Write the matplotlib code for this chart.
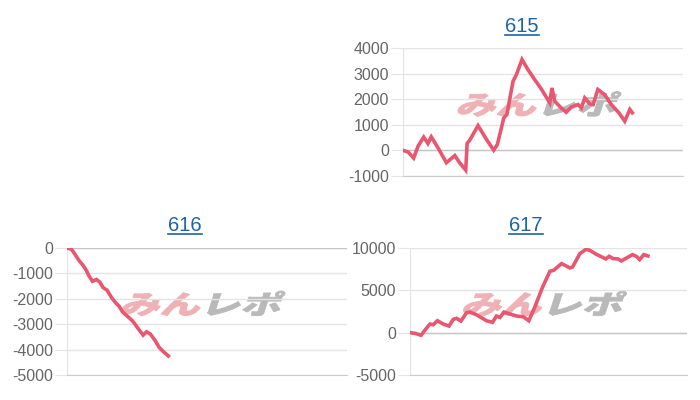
import matplotlib
matplotlib.use("Agg")
import matplotlib.pyplot as plt
from matplotlib.textpath import TextPath
from matplotlib.font_manager import FontProperties
from matplotlib.patches import PathPatch
from matplotlib.transforms import Affine2D, IdentityTransform
from matplotlib.lines import Line2D

plt.rcParams['font.family'] = ['Liberation Sans', 'DejaVu Sans']
plt.rcParams['axes.unicode_minus'] = False

# x = progress along the day (0-100), y = balance
x_615 = [0, 1.8, 3.8, 5.4, 7.4, 8.9, 10.1, 12.5, 15.5, 18.5, 20.2, 22.4, 22.9, 24.0,
         26.8, 29.8, 32.4, 33.7, 36.0, 37.1, 39.3, 40.5, 42.5, 44.6, 47.0, 49.4,
         52.4, 53.2, 54.2, 56.5, 58.3, 60.1, 62.5, 63.7, 64.9, 66.7, 67.9, 69.6,
         72.0, 74.4, 77.1, 79.2, 81.0, 81.9]
y_615 = [0, -60, -300, 170, 520, 270, 530, 100, -480, -200, -480, -770, 270, 430,
         970, 430, 10, 230, 1270, 1400, 2700, 2960, 3550, 3160, 2770, 2400,
         1860, 2440, 1920, 1660, 1490, 1690, 1790, 1660, 2050, 1820, 1790, 2380,
         2180, 1790, 1470, 1140, 1600, 1470]

x_616 = [0, 1.6, 2.7, 4.2, 5.7, 6.9, 7.9, 9.1, 10.5, 11.7, 12.9, 14.3, 15.9, 17.4,
         18.6, 19.8, 21.8, 23.4, 24.8, 26.0, 27.2, 28.4, 29.8, 31.4, 32.9, 34.4, 36.2]
y_616 = [0, -50, -220, -480, -680, -880, -1110, -1310, -1240, -1340, -1560, -1660,
         -1950, -2160, -2290, -2510, -2710, -2870, -3080, -3260, -3430, -3300,
         -3390, -3630, -3910, -4080, -4250]

x_617 = [0, 1.8, 4.0, 5.4, 7.2, 8.4, 9.9, 12.0, 14.1, 15.6, 16.8, 18.4, 20.4, 21.6,
         24.0, 27.6, 29.8, 31.2, 32.5, 33.9, 36.1, 38.5, 40.9, 42.9, 45.1, 47.8,
         50.5, 51.9, 54.7, 55.9, 57.7, 58.7, 61.3, 63.5, 64.9, 67.3, 70.7, 71.9,
         73.3, 75.1, 76.3, 78.4, 80.3, 81.7, 82.9, 84.4, 85.9]
y_617 = [0, -80, -310, 310, 1020, 940, 1410, 1020, 780, 1570, 1690, 1370, 2350, 2430,
         2120, 1410, 1220, 1960, 1800, 2430, 2200, 1960, 1880, 1410, 3060, 5330,
         7250, 7370, 8160, 7960, 7650, 7760, 9330, 9840, 9730, 9250, 8710, 9020,
         8750, 8710, 8470, 8860, 9220, 9020, 8630, 9220, 9060]

yticks_615 = [-1000, 0, 1000, 2000, 3000, 4000]
yticks_616 = [-5000, -4000, -3000, -2000, -1000, 0]
yticks_617 = [-5000, 0, 5000, 10000]

LINE = '#e9566f'
GRID = '#e4e4e4'
TICK = '#666666'
TITLE = '#1b64a8'

W, H = 700, 400
fig = plt.figure(figsize=(7, 4), dpi=100)

panels = [
    # name, x, y, ticks, axes rect in px (left, top, right, bottom), title center px
    ('615', x_615, y_615, yticks_615, (403, 48, 683, 176), (522, 26)),
    ('616', x_616, y_616, yticks_616, (67, 248, 347, 375), (185, 226)),
    ('617', x_617, y_617, yticks_617, (410, 248, 687, 375), (526, 226)),
]

jp = FontProperties(family='Noto Sans CJK JP', weight='heavy')


def add_watermark(cx, cy, width=158, height=25):
    # "みんレポ" logo, pink + gray, slanted, stretched to a fixed box
    parts = [('みん', '#efb1b5'), ('レポ', '#b9b9b9')]
    p1 = TextPath((0, 0), parts[0][0], size=30, prop=jp)
    p2 = TextPath((p1.get_extents().x1 + 1, 0), parts[1][0], size=30, prop=jp)
    ext1, ext2 = p1.get_extents(), p2.get_extents()
    x0 = min(ext1.x0, ext2.x0)
    x1 = max(ext1.x1, ext2.x1)
    y0 = min(ext1.y0, ext2.y0)
    y1 = max(ext1.y1, ext2.y1)
    sx = width / (x1 - x0)
    sy = height / (y1 - y0)
    for p, (_, col) in zip([p1, p2], parts):
        tr = (Affine2D().translate(-(x0 + x1) / 2, -(y0 + y1) / 2)
              .skew_deg(12, 0).scale(sx, sy).translate(cx, H - cy))
        fig.add_artist(PathPatch(p, transform=tr + IdentityTransform(), fc=col,
                                 ec=col, lw=0.6, zorder=0.5))


for name, xs, ys, ticks, (l, t, r, b), (tx, ty) in panels:
    ax = fig.add_axes([l / W, 1 - b / H, (r - l) / W, (b - t) / H])
    ax.patch.set_alpha(0)
    ax.set_zorder(1)
    ax.plot(xs, ys, color=LINE, lw=2.6, solid_joinstyle='miter', zorder=3)
    ax.set_xlim(0, 100)
    ax.set_ylim(ticks[0], ticks[-1])
    ax.set_yticks(ticks)
    ax.set_xticks([])
    ax.grid(axis='y', color=GRID, lw=1)
    ax.axhline(0, color='#c6c6c6', lw=1, zorder=1)
    for s in ['top', 'right']:
        ax.spines[s].set_visible(False)
    ax.spines['left'].set_color(GRID)
    ax.spines['bottom'].set_color('#cccccc')
    ax.tick_params(axis='y', length=9, color=GRID, labelcolor=TICK, labelsize=11.5, pad=1)
    ax.set_axisbelow(True)

    txt = fig.text(tx / W, 1 - ty / H, name, ha='center', va='center',
                   color=TITLE, fontsize=14.5)
    add_watermark((l + r) / 2 - 4, (t + b) / 2 - 8)
    fig.canvas.draw()
    bb = txt.get_window_extent()
    yline = bb.y0 + 1
    fig.add_artist(Line2D([bb.x0 / W, bb.x1 / W], [yline / H, yline / H],
                          transform=fig.transFigure, color=TITLE, lw=1.2))

fig.savefig('out.png', dpi=100)
